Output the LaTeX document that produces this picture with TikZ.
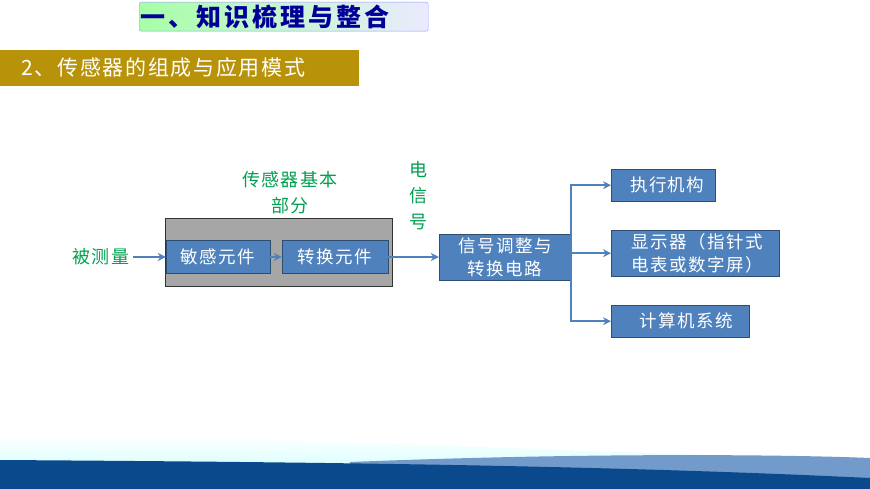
\documentclass[tikz,border=0pt]{standalone}
\usepackage{fontspec}
\setmainfont{Noto Sans CJK SC}[LetterSpace=8]
\usetikzlibrary{arrows.meta}
\definecolor{bx}{HTML}{4F81BD}
\definecolor{gr}{HTML}{00A050}
\definecolor{gold}{HTML}{B8930A}
\definecolor{dblue}{HTML}{0A4A8C}
\begin{document}
\begin{tikzpicture}[x=1pt,y=-1pt,
 blk/.style={draw=bx!60!black,fill=bx,text=white,font=\fontsize{17.5}{20}\selectfont,inner sep=0pt,align=left},
 arr/.style={draw=bx,line width=2pt,-{Stealth[length=8pt,width=8pt]}},
 lbl/.style={text=gr,font=\fontsize{18}{24}\selectfont,align=center}]
\useasboundingbox (0,0) rectangle (870,489);
\fill[white] (0,0) rectangle (870,489);
% bottom decoration
\shade[top color=white,bottom color=cyan!25] (0,435) .. controls (400,440) and (600,455) .. (870,458) -- (870,489) -- (0,489) -- cycle;
\fill[bx!80] (350,462) .. controls (600,452) and (800,455) .. (870,458) -- (870,489) -- (350,489) -- cycle;
\fill[dblue] (0,460) .. controls (300,462) and (600,465) .. (870,478) -- (870,489) -- (0,489) -- cycle;
% title
\node (title) [draw=blue!40,rounded corners=2pt,left color=green!35,right color=blue!8,minimum width=289,minimum height=29,inner sep=0pt,anchor=north west] at (139,2) {};
\node [text=blue!60!black,font=\fontsize{25}{26}\selectfont\bfseries\addfontfeature{LetterSpace=12},anchor=west,inner sep=0pt] at (140,17) {一、知识梳理与整合};
\node (sub) [fill=gold,minimum width=359,minimum height=36,inner sep=0pt,anchor=north west] at (0,50) {};
\node [text=white,font=\fontsize{21}{22}\selectfont,anchor=west] at (18,68) {2、传感器的组成与应用模式};
% gray box
\node (grp) [draw=gray!40!black,fill=gray!70,minimum width=227,minimum height=68,anchor=north west,inner sep=0pt] at (165,218) {};
\node (s1) [blk,minimum width=104,minimum height=33] at (218,257) {敏感元件};
\node (s2) [blk,minimum width=106,minimum height=33] at (335,257) {转换元件};
\node (sig) [blk,minimum width=132,minimum height=46,align=center,font=\fontsize{17.5}{23}\selectfont] at (505,257) {信号调整与\\转换电路};
\node (o1) [blk,minimum width=104,minimum height=32,anchor=north west] at (611,169) {\hspace{8pt}执行机构};
\node (o2) [blk,minimum width=168,minimum height=46,anchor=north west,font=\fontsize{17.5}{23}\selectfont] at (611,230) {\hspace{4pt}显示器（指针式\\\hspace{4pt}电表或数字屏）};
\node (o3) [blk,minimum width=138,minimum height=32,anchor=north west] at (611,305) {\hspace{12pt}计算机系统};
\node (m) [lbl] at (101,257) {被测量};
\node (part) [lbl,font=\fontsize{18}{26}\selectfont] at (290,193) {传感器基本\\部分};
\node (e) [lbl,font=\fontsize{18}{26}\selectfont] at (418,196) {电\\信\\号};
\draw[arr] (m.east) -- (s1.west);
\draw[arr] (s1.east) -- (s2.west);
\draw[arr] (s2.east) -- (sig.west);
\coordinate (j) at (571,257);
\draw[arr] (sig.east) -- (j) |- (o1.west);
\draw[arr] (j) |- (o2.west);
\draw[arr] (j) |- (o3.west);
\end{tikzpicture}
\end{document}
